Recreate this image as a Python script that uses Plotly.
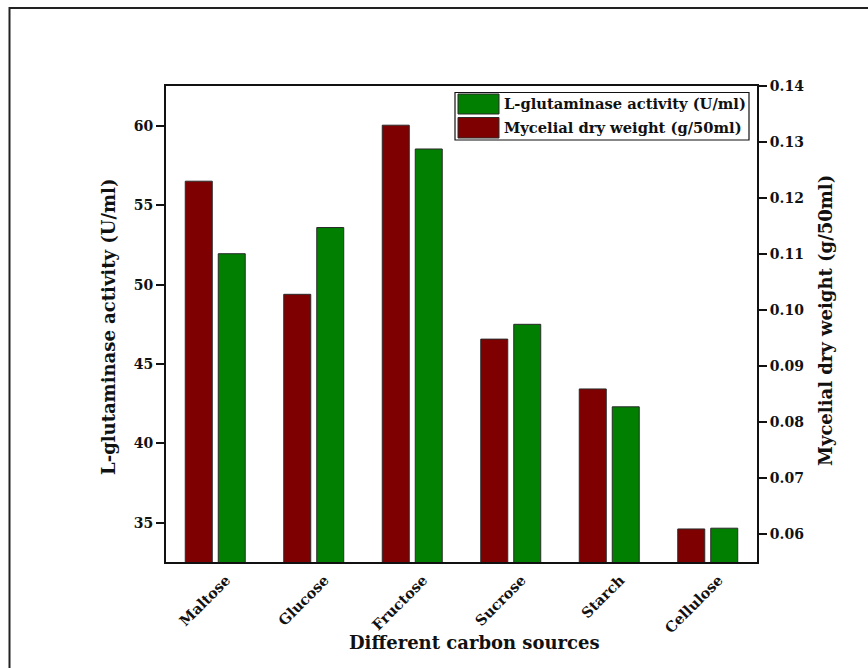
import plotly.graph_objects as go

categories = ["Maltose", "Glucose", "Fructose", "Sucrose", "Starch", "Cellulose"]
glutaminase_activity = [51.95, 53.6, 58.55, 47.5, 42.3, 34.65]   # U/ml, left axis
mycelial_dry_weight = [0.123, 0.1028, 0.133, 0.0948, 0.0859, 0.0609]  # g/50ml, right axis

left_ticks = [35, 40, 45, 50, 55, 60]
right_ticks = [0.06, 0.07, 0.08, 0.09, 0.10, 0.11, 0.12, 0.13, 0.14]

FONT = "DejaVu Serif"
MAROON = "#7f0000"
GREEN = "#007f00"

W, H = 868, 668
L, R, T, B = 166, 111, 86, 106
PW, PH = W - L - R, H - T - B

def px(x):
    return (x - L) / PW

def py(y):
    return (H - B - y) / PH

bw = 0.274
fig = go.Figure()
fig.add_trace(go.Bar(
    x=categories, y=mycelial_dry_weight, yaxis="y2",
    name="Mycelial dry weight (g/50ml)",
    marker=dict(color=MAROON, line=dict(color="#2a2a2a", width=1)),
    width=bw, offset=-0.1675 - bw / 2, showlegend=False,
))
fig.add_trace(go.Bar(
    x=categories, y=glutaminase_activity, yaxis="y",
    name="L-glutaminase activity (U/ml)",
    marker=dict(color=GREEN, line=dict(color="#2a2a2a", width=1)),
    width=bw, offset=0.1675 - bw / 2, showlegend=False,
))

tickfont = dict(family=FONT, size=14, color="#111", weight="bold")
fig.update_layout(
    width=W, height=H,
    margin=dict(l=L, r=R, t=T, b=B, pad=0),
    paper_bgcolor="white", plot_bgcolor="white",
    barmode="overlay",
    showlegend=False,
    xaxis=dict(
        range=[-0.5, 5.5], showline=True, linecolor="#111", linewidth=2,
        mirror=True, ticks="", showgrid=False, tickangle=-45,
        ticklabelshift=11, ticklabelstandoff=2,
        tickfont=dict(family=FONT, size=14.5, color="#111", weight="bold"),
    ),
    yaxis=dict(
        range=[32.52, 62.52], tickvals=left_ticks, ticks="outside",
        ticklen=8, tickwidth=2, tickcolor="#111", showline=True,
        linecolor="#111", linewidth=2, showgrid=False, zeroline=False,
        tickfont=tickfont,
    ),
    yaxis2=dict(
        range=[0.055, 0.14], tickvals=right_ticks, tickformat=".2f",
        overlaying="y", side="right", ticks="outside", ticklen=8,
        tickwidth=2, tickcolor="#111", showline=True, linecolor="#111",
        linewidth=2, showgrid=False, zeroline=False, tickfont=tickfont,
    ),
)

ann = dict(xref="paper", yref="paper", showarrow=False, xanchor="center", yanchor="middle")
# axis titles
fig.add_annotation(text="<b>Different carbon sources</b>", x=px(474), y=py(642),
                   font=dict(family=FONT, size=18, color="#111"), **ann)
fig.add_annotation(text="<b>L-glutaminase activity (U/ml)</b>", x=px(108), y=py(327),
                   textangle=-90, font=dict(family=FONT, size=18, color="#111"), **ann)
fig.add_annotation(text="<b>Mycelial dry weight (g/50ml)</b>", x=px(825), y=py(321),
                   textangle=-90, font=dict(family=FONT, size=18, color="#111"), **ann)

# manual legend
shapes = [
    dict(type="rect", xref="paper", yref="paper", x0=px(455), x1=px(749),
         y0=py(140), y1=py(92.5), line=dict(color="#111", width=1.2), fillcolor="white", layer="above"),
    dict(type="rect", xref="paper", yref="paper", x0=px(458), x1=px(499),
         y0=py(114), y1=py(94), line=dict(color="#2a2a2a", width=1), fillcolor=GREEN, layer="above"),
    dict(type="rect", xref="paper", yref="paper", x0=px(458), x1=px(499),
         y0=py(138), y1=py(117.5), line=dict(color="#2a2a2a", width=1), fillcolor=MAROON, layer="above"),
    # outer frame
    dict(type="rect", xref="paper", yref="paper", x0=px(9.5), x1=px(880),
         y0=py(680), y1=py(8), line=dict(color="#222", width=2), layer="below"),
]
fig.update_layout(shapes=shapes)
leg = dict(xref="paper", yref="paper", showarrow=False, xanchor="left", yanchor="middle")
fig.add_annotation(text="<b>L-glutaminase activity (U/ml)</b>", x=px(502), y=py(104),
                   font=dict(family=FONT, size=14.7, color="#111"), **leg)
fig.add_annotation(text="<b>Mycelial dry weight (g/50ml)</b>", x=px(502), y=py(127.5),
                   font=dict(family=FONT, size=14.7, color="#111"), **leg)

fig.write_html("out.html")
